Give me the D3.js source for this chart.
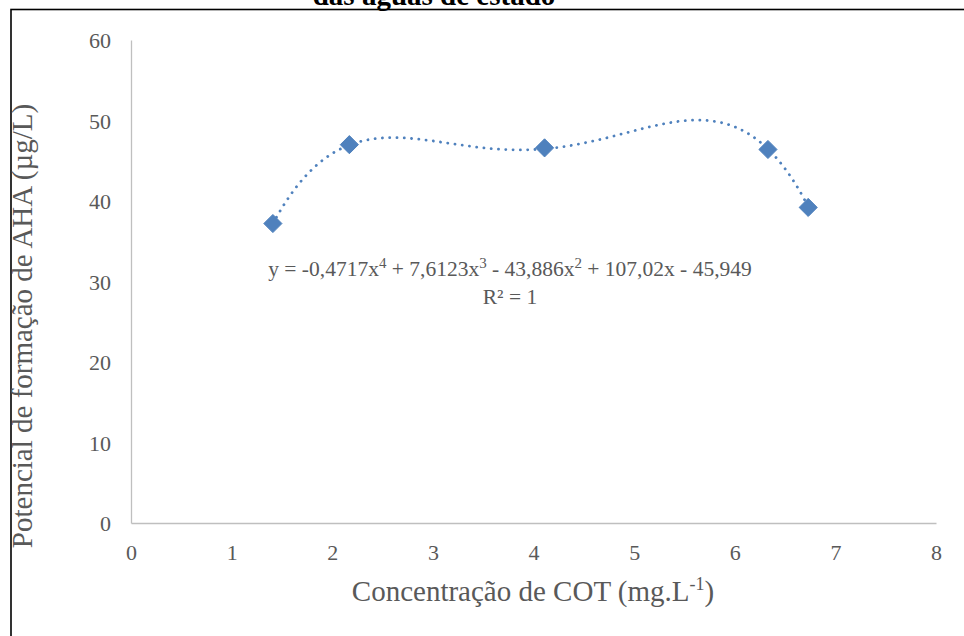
<!DOCTYPE html>
<html>
<head>
<meta charset="utf-8">
<script src="https://cdn.jsdelivr.net/npm/d3@7/dist/d3.min.js"></script>
<style>
  html, body { margin: 0; padding: 0; background: #fff; }
  svg text { font-family: "Liberation Serif", "Times New Roman", serif !important; }
</style>
</head>
<body>
<svg id="chart" width="964" height="636"></svg>
<script>
// Measured points: COT concentration (mg/L) vs AHA formation potential (µg/L)
const cotValues = [1.41, 2.17, 4.11, 6.33, 6.73];
const ahaValues = [37.2, 47.0, 46.6, 46.4, 39.2];

// Polynomial trendline coefficients, highest power first (order 4)
const trendCoefficients = [-0.4717, 7.6123, -43.886, 107.02, -45.949];

const xTicks = [0, 1, 2, 3, 4, 5, 6, 7, 8];
const yTicks = [0, 10, 20, 30, 40, 50, 60];

const titleText = "das águas de estado";
const xAxisTitle = "Concentração de COT (mg.L";
const yAxisTitle = "Potencial de formação de AHA (µg/L)";

const svg = d3.select("#chart");
const plot = { left: 131, right: 936, top: 40, bottom: 523 };

const x = d3.scaleLinear().domain([0, 8]).range([plot.left, plot.right]);
const y = d3.scaleLinear().domain([0, 60]).range([plot.bottom, plot.top]);

const axisGray = "#bfbfbf";
const textGray = "#595959";
const blue = "#4f81bd";

// Outer frame of the chart object
svg.append("rect")
  .attr("x", 11).attr("y", 9.5)
  .attr("width", 964).attr("height", 640)
  .attr("fill", "none").attr("stroke", "#000").attr("stroke-width", 1.6);

// Title, partially clipped above the frame
svg.append("text")
  .attr("x", 434).attr("y", 5)
  .attr("text-anchor", "middle")
  .attr("font-weight", "bold")
  .attr("font-size", 29)
  .attr("fill", "#000")
  .text(titleText);

// Axes
const xAxis = d3.axisBottom(x).tickValues(xTicks).tickSize(0).tickPadding(21)
  .tickFormat(d3.format("d"));
const yAxis = d3.axisLeft(y).tickValues(yTicks).tickSize(0).tickPadding(20)
  .tickFormat(d3.format("d"));

const gx = svg.append("g").attr("transform", `translate(0,${plot.bottom})`).call(xAxis);
const gy = svg.append("g").attr("transform", `translate(${plot.left},0)`).call(yAxis);

[gx, gy].forEach(g => {
  g.attr("font-family", null).attr("font-size", null);
  g.select(".domain").attr("stroke", axisGray).attr("stroke-width", 1.3);
  g.selectAll("text")
    .attr("font-size", 22)
    .attr("fill", textGray);
});
gy.selectAll("text").attr("dy", "0.35em");

// Axis titles
const xt = svg.append("text")
  .attr("x", 533).attr("y", 601)
  .attr("text-anchor", "middle")
  .attr("font-size", 29)
  .attr("fill", textGray);
xt.append("tspan").text(xAxisTitle);
xt.append("tspan").attr("dy", -11).attr("font-size", 18).text("-1");
xt.append("tspan").attr("dy", 11).text(")");

svg.append("text")
  .attr("transform", "translate(32,326) rotate(-90)")
  .attr("text-anchor", "middle")
  .attr("font-size", 29)
  .attr("fill", textGray)
  .text(yAxisTitle);

// Trendline evaluated from the stated polynomial across the data range
const poly = xv => trendCoefficients.reduce((acc, c) => acc * xv + c, 0);
const xs = d3.range(0, 201).map(i => cotValues[0] + (cotValues[cotValues.length - 1] - cotValues[0]) * i / 200);
svg.append("path")
  .datum(xs)
  .attr("fill", "none")
  .attr("stroke", blue)
  .attr("stroke-width", 2.8)
  .attr("stroke-linecap", "round")
  .attr("stroke-dasharray", "0.1 7.2")
  .attr("d", d3.line().x(d => x(d)).y(d => y(poly(d))));

// Diamond markers
svg.selectAll("path.pt")
  .data(cotValues.map((c, i) => [c, ahaValues[i]]))
  .join("path")
  .attr("class", "pt")
  .attr("transform", d => `translate(${x(d[0])},${y(d[1])})`)
  .attr("d", d3.symbol().type(d3.symbolDiamond2).size(210))
  .attr("fill", blue)
  .attr("stroke", blue)
  .attr("stroke-width", 1);

// Trendline equation label
const eq = svg.append("text")
  .attr("x", 510).attr("y", 276)
  .attr("text-anchor", "middle")
  .attr("font-size", 21.5)
  .attr("fill", textGray);
const sup = (t) => { eq.append("tspan").attr("dy", -8).attr("font-size", 15).text(t); };
const base = (t) => { eq.append("tspan").attr("dy", 8).attr("font-size", 21.5).text(t); };
eq.append("tspan").text("y = -0,4717x");
sup("4"); base(" + 7,6123x");
sup("3"); base(" - 43,886x");
sup("2"); base(" + 107,02x - 45,949");

svg.append("text")
  .attr("x", 510).attr("y", 304)
  .attr("text-anchor", "middle")
  .attr("font-size", 21.5)
  .attr("fill", textGray)
  .text("R² = 1");
</script>
</body>
</html>
